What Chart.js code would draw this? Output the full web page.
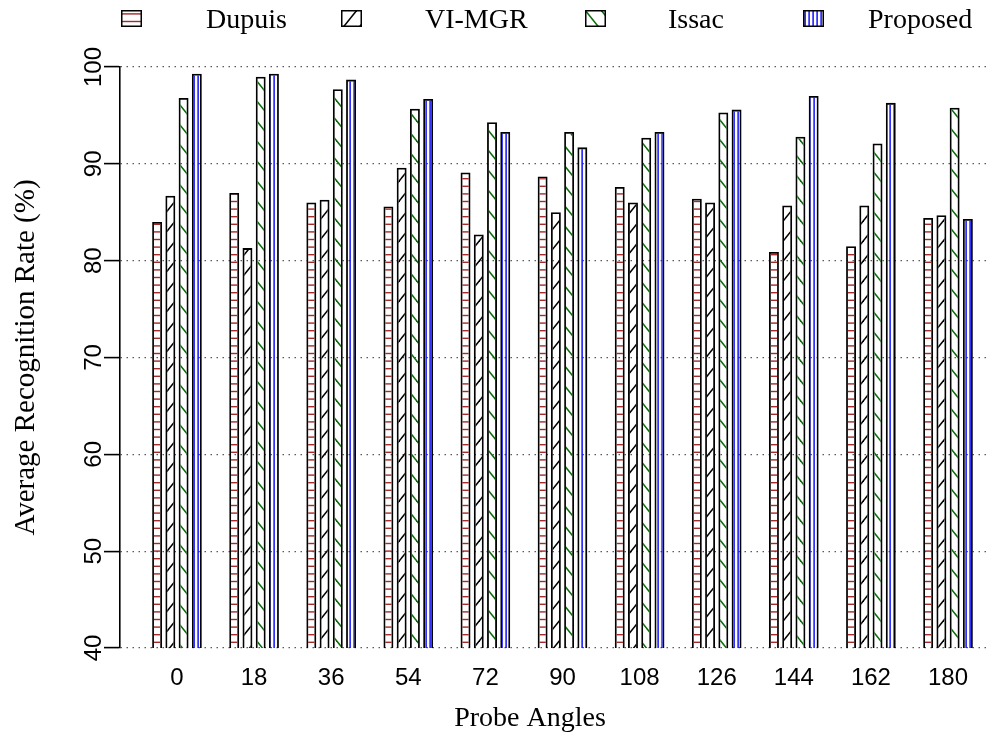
<!DOCTYPE html>
<html>
<head>
<meta charset="utf-8">
<script src="https://cdn.jsdelivr.net/npm/chart.js@4.4.0/dist/chart.umd.min.js"></script>
<style>
  html, body { margin: 0; padding: 0; background: #fff; }
  #wrap { position: relative; width: 1000px; height: 740px; }
  #legend { position: absolute; left: 0; top: 0; width: 1000px; height: 40px;
            font-family: "Liberation Serif", "Times New Roman", serif; font-size: 28px; color: #000; }
  #legend canvas, #legend span { position: absolute; }
  #legend span { line-height: 1; white-space: nowrap; }
</style>
</head>
<body>
<div id="wrap">
  <canvas id="chart" width="1000" height="740"></canvas>
  <div id="legend"></div>
</div>
<script>
// probe angles (x categories)
const angles = [0, 18, 36, 54, 72, 90, 108, 126, 144, 162, 180];

// average recognition rate (%) per method
const dupuis   = [84.0, 87.0, 86.0, 85.6, 89.1, 88.7, 87.6, 86.4, 80.9, 81.5, 84.4];
const viMgr    = [86.7, 81.3, 86.3, 89.6, 82.7, 85.0, 86.0, 86.0, 85.7, 85.7, 84.7];
const issac    = [96.8, 99.0, 97.7, 95.7, 94.3, 93.3, 92.7, 95.3, 92.8, 92.1, 95.8];
const proposed = [99.3, 99.3, 98.7, 96.7, 93.3, 91.7, 93.3, 95.6, 97.0, 96.3, 84.3];

const seriesNames = ["Dupuis", "VI-MGR", "Issac", "Proposed"];
const yTicks = [40, 50, 60, 70, 80, 90, 100];

// hatch patterns like the gnuplot fill patterns
function makeTile(kind) {
  const c = document.createElement("canvas");
  let g;
  if (kind === "horiz") {
    c.width = 4; c.height = 38;
    g = c.getContext("2d");
    g.fillStyle = "#a52a2a";
    for (let i = 0; i < 5; i++) g.fillRect(0, i * 7.6 + 3.2, 4, 1.4);
  } else if (kind === "slash" || kind === "back") {
    const W = 16, H = 20, s = H / W;
    c.width = W; c.height = H;
    g = c.getContext("2d");
    g.strokeStyle = kind === "slash" ? "#000" : "#0a6a0a";
    g.lineWidth = 1.5;
    for (let k = -1; k <= 1; k++) {
      g.beginPath();
      if (kind === "slash") {
        g.moveTo(-2, H + 2 * s + k * H);
        g.lineTo(W + 2, -2 * s + k * H);
      } else {
        g.moveTo(-2, -2 * s + k * H);
        g.lineTo(W + 2, H + 2 * s + k * H);
      }
      g.stroke();
    }
  } else {
    c.width = 4; c.height = 4;
    g = c.getContext("2d");
    g.fillStyle = "#0000ff";
    g.fillRect(1.4, 0, 1.4, 4);
  }
  return c;
}

const ctx = document.getElementById("chart").getContext("2d");
const kinds = ["horiz", "slash", "back", "vert"];
const tiles = kinds.map(makeTile);
const patterns = tiles.map(t => ctx.createPattern(t, "repeat"));

const allValues = [dupuis, viMgr, issac, proposed];
const datasets = allValues.map((vals, i) => ({
  label: seriesNames[i],
  data: vals.map((v, j) => ({ x: angles[j], y: v })),
  backgroundColor: patterns[i],
  borderColor: "#000",
  borderWidth: 1.8,
  borderSkipped: false,
  categoryPercentage: 0.687,
  barPercentage: 0.75
}));

// legend drawn as html
const legendPos = [[121, 206], [341, 425], [585, 668], [803, 868]];
const legend = document.getElementById("legend");
seriesNames.forEach((name, i) => {
  const sw = document.createElement("canvas");
  sw.width = 21; sw.height = 17;
  sw.style.left = legendPos[i][0] + "px";
  sw.style.top = "10px";
  const g = sw.getContext("2d");
  g.fillStyle = g.createPattern(tiles[i], "repeat");
  g.fillRect(0, 0, 21, 17);
  g.strokeStyle = "#000";
  g.lineWidth = 1.5;
  g.strokeRect(0.75, 0.75, 19.5, 15.5);
  legend.appendChild(sw);
  const sp = document.createElement("span");
  sp.textContent = name;
  sp.style.left = legendPos[i][1] + "px";
  sp.style.top = "5px";
  legend.appendChild(sp);
});

// x axis title, centred like gnuplot's xlabel
const xTitle = {
  id: "xTitle",
  afterDraw(chart) {
    const c = chart.ctx;
    c.save();
    c.fillStyle = "#000";
    c.font = "28px 'Liberation Serif', 'Times New Roman', serif";
    c.textAlign = "center";
    c.textBaseline = "middle";
    c.fillText("Probe Angles", 530, 719);
    c.restore();
  }
};

new Chart(ctx, {
  type: "bar",
  data: { datasets: datasets },
  plugins: [xTitle],
  options: {
    responsive: false,
    animation: false,
    layout: { padding: { top: 67, right: 13, left: 0, bottom: 0 } },
    plugins: { legend: { display: false }, tooltip: { enabled: false } },
    scales: {
      x: {
        type: "linear",
        offset: false,
        min: -13.3,
        max: 189.1,
        afterBuildTicks: s => { s.ticks = angles.map(v => ({ value: v })); },
        afterFit: s => { s.height = 92; },
        grid: { display: false, drawTicks: false },
        border: { display: false },
        ticks: {
          color: "#000",
          padding: 16,
          font: { family: "'Liberation Sans', Arial, sans-serif", size: 24 },
          callback: v => String(v)
        }
      },
      y: {
        min: 40,
        max: 100,
        afterBuildTicks: s => { s.ticks = yTicks.map(v => ({ value: v })); },
        afterFit: s => { s.width = 120; },
        grid: {
          color: "#333",
          lineWidth: 1.2,
          tickLength: 16,
          tickColor: "#000",
          tickWidth: 1.6,
          tickBorderDash: []
        },
        border: { display: true, color: "#000", width: 1.6, dash: [1.2, 4.8] },
        ticks: {
          color: "#000",
          minRotation: 90,
          maxRotation: 90,
          crossAlign: "center",
          padding: -10,
          font: { family: "'Liberation Sans', Arial, sans-serif", size: 24 }
        },
        title: {
          display: true,
          text: "Average Recognition Rate (%)",
          color: "#000",
          font: { family: "'Liberation Serif', 'Times New Roman', serif", size: 29 },
          padding: { top: 9, bottom: 0 }
        }
      }
    }
  }
});
</script>
</body>
</html>
